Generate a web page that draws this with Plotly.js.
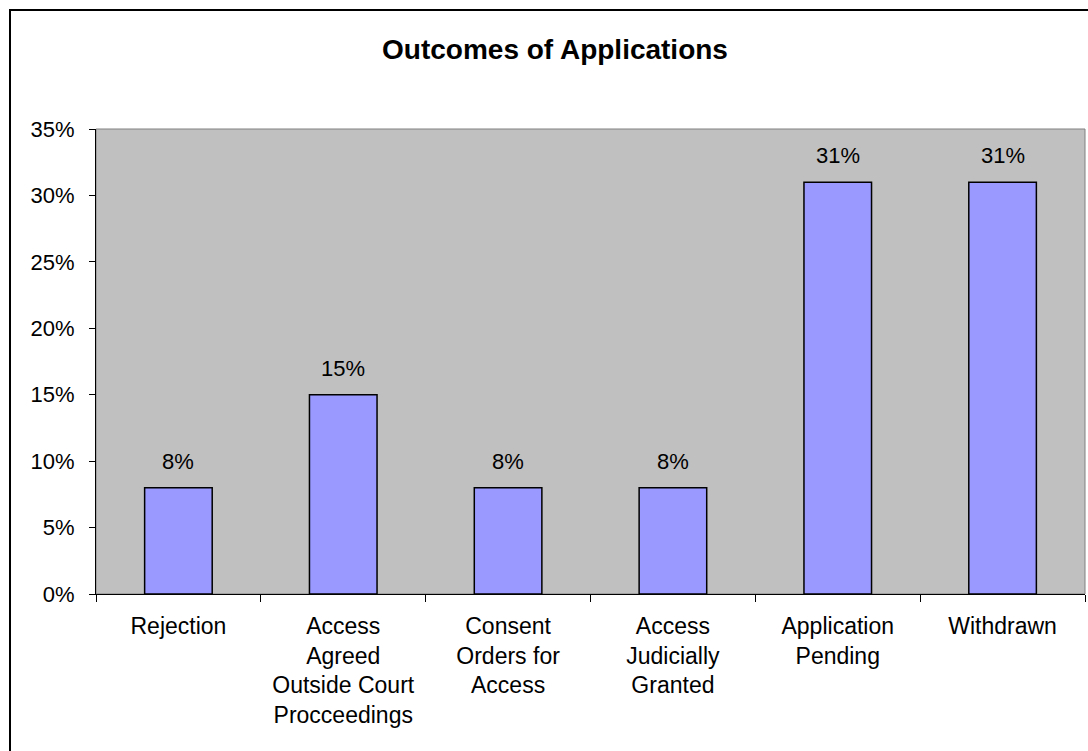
<!DOCTYPE html>
<html>
<head>
<meta charset="utf-8">
<script src="https://cdn.plot.ly/plotly-3.0.1.min.js"></script>
<style>
  html, body { margin: 0; padding: 0; background: #ffffff; }
  #chart { width: 1088px; height: 751px; }
</style>
</head>
<body>
<div id="chart"></div>
<script>
const categories = [
  "Rejection",
  "Access<br>Agreed<br>Outside Court<br>Procceedings",
  "Consent<br>Orders for<br>Access",
  "Access<br>Judicially<br>Granted",
  "Application<br>Pending",
  "Withdrawn"
];
const values = [8, 15, 8, 8, 31, 31];
const valueLabels = ["8%", "15%", "8%", "8%", "31%", "31%"];
const yTickVals = [0, 5, 10, 15, 20, 25, 30, 35];
const yTickText = ["0%", "5%", "10%", "15%", "20%", "25%", "30%", "35%"];
const chartTitle = "Outcomes of Applications";

const FONT = "Liberation Sans, Arial, sans-serif";

const trace = {
  type: "bar",
  x: categories,
  y: values,
  marker: { color: "#9999FF", line: { color: "#000000", width: 1.5 } },
  hoverinfo: "skip"
};

const annotations = categories.map((c, i) => ({
  x: c, y: values[i], xref: "x", yref: "y",
  text: valueLabels[i], showarrow: false,
  yanchor: "bottom", yshift: 12,
  font: { family: FONT, size: 22, color: "#000000" }
}));

// plot area spans x 96..1085, y 129..594
const L = 96, R = 1085, T = 129, B = 594;
const pw = R - L, ph = B - T;
const px = v => (v - L) / pw;
const py = v => (B - v) / ph;

const layout = {
  width: 1088, height: 751,
  margin: { l: L, r: 1088 - R, t: T, b: 751 - B, pad: 0 },
  paper_bgcolor: "#ffffff",
  plot_bgcolor: "#C0C0C0",
  font: { family: FONT, size: 22, color: "#000000" },
  title: {
    text: "<b>" + chartTitle + "</b>",
    font: { family: FONT, size: 28, color: "#000000" },
    xref: "container", yref: "container",
    x: 555 / 1088, y: 1 - 49 / 751, xanchor: "center", yanchor: "middle"
  },
  bargap: 0.59,
  showlegend: false,
  xaxis: {
    type: "category",
    showgrid: false, zeroline: false,
    showline: true, linecolor: "#000000", linewidth: 1,
    ticks: "outside", ticklen: 7, tickcolor: "#000000", tickwidth: 1,
    tickson: "boundaries",
    tickangle: 0,
    ticklabelstandoff: 11,
    tickfont: { family: FONT, size: 23, color: "#000000" },
    fixedrange: true
  },
  yaxis: {
    range: [0, 35],
    tickvals: yTickVals, ticktext: yTickText,
    showgrid: false, zeroline: false,
    showline: true, linecolor: "#000000", linewidth: 1,
    ticks: "outside", ticklen: 6, tickcolor: "#000000", tickwidth: 1,
    ticklabelstandoff: 10,
    tickfont: { family: FONT, size: 22, color: "#000000" },
    fixedrange: true
  },
  annotations: annotations,
  shapes: [
    { type: "rect", xref: "paper", yref: "paper", x0: 0, x1: 1, y0: 0, y1: 1,
      line: { color: "#808080", width: 1 }, layer: "below" },
    { type: "rect", xref: "paper", yref: "paper",
      x0: px(10), x1: px(1100), y0: py(770), y1: py(10),
      line: { color: "#000000", width: 2 }, layer: "above" }
  ]
};

Plotly.newPlot("chart", [trace], layout, { displayModeBar: false, staticPlot: true });
</script>
</body>
</html>
